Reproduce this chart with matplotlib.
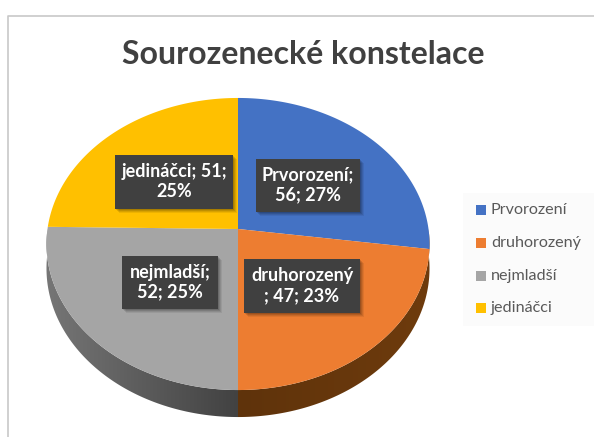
import numpy as np
import matplotlib
matplotlib.use("Agg")
import matplotlib.pyplot as plt
from matplotlib.patches import Polygon, Rectangle

title = "Sourozenecké konstelace"
names = ["Prvorození", "druhorozený", "nejmladší", "jedináčci"]
values = [56, 47, 52, 51]
colors = ["#4472C4", "#ED7D31", "#A5A5A5", "#FFC000"]
# how the labels wrap in the original
wraps = [
    "{n};\n{v}; {p}%",
    "{n}\n; {v}; {p}%",
    "{n};\n{v}; {p}%",
    "{n}; {v};\n{p}%",
]
# x0, x1, y0, y1 in pixels
boxes = [(256, 360, 159, 212), (244, 360, 259, 313), (122, 218, 256, 309), (115, 233, 155, 209)]
legend_y = [210, 243, 276, 308]

plt.rcParams["font.family"] = ["Lato", "DejaVu Sans"]

# pie projection, tilted with a little perspective
cx, cy = 238, 229
rx, ry, k = 190.5, 144.5, 0.1027
depth = 27


def project(theta):
    u, v = np.sin(theta), np.cos(theta)
    s = 1 + k * v
    return cx + rx * u / s, cy - ry * v / s, depth * (1 - k) / s


fig = plt.figure(figsize=(5.94, 4.37), dpi=100)
ax = fig.add_axes([0, 0, 1, 1])

# chart frame, cut off on the right and at the bottom
ax.plot([7.5, 7.5, 594], [437, 15.5, 15.5], color="#c8c8c8", lw=1.2)
ax.text(303.5, 55, title, ha="center", va="center", fontsize=23,
        fontweight="bold", color="#404040")

total = sum(values)
edges = np.cumsum([0] + values) / total * 2 * np.pi

# side of the pie, front half only, gradient clipped to each half
halves = [
    (np.pi / 2, np.pi, "#5f330b", "#6e3b0d"),
    (np.pi, 3 * np.pi / 2, "#424242", "#767676"),
]
for a, b, inner, outer in halves:
    th = np.linspace(a, b, 150)
    px, py, d = project(th)
    poly = Polygon(np.column_stack([np.r_[px, px[::-1]], np.r_[py, (py + d)[::-1]]]),
                   facecolor="none", edgecolor="none")
    ax.add_patch(poly)
    grad = np.linspace(0, 1, 200).reshape(1, -1)
    x_in, x_out = cx, px.max() if a < np.pi else px.min()
    cmap = matplotlib.colors.LinearSegmentedColormap.from_list("side", [inner, outer])
    im = ax.imshow(grad, cmap=cmap, aspect="auto", extent=(x_in, x_out, 437, 0))
    im.set_clip_path(poly)

# top face
for i, col in enumerate(colors):
    th = np.linspace(edges[i], edges[i + 1], 120)
    px, py, _ = project(th)
    pts = np.column_stack([np.r_[cx, px], np.r_[cy, py]])
    ax.add_patch(Polygon(pts, facecolor=col, edgecolor="none"))

# data labels
for i, (x0, x1, y0, y1) in enumerate(boxes):
    for off, alpha in [(5, 0.07), (4, 0.09), (3, 0.11), (2, 0.13)]:
        ax.add_patch(Rectangle((x0 + off - 1, y0 + off - 1), x1 - x0, y1 - y0,
                               facecolor="black", alpha=alpha, edgecolor="none"))
    ax.add_patch(Rectangle((x0, y0), x1 - x0, y1 - y0, facecolor="#404040", edgecolor="none"))
    pct = round(100 * values[i] / total)
    label = wraps[i].format(n=names[i], v=values[i], p=pct)
    ax.text((x0 + x1) / 2, (y0 + y1) / 2 - 0.5, label, ha="center", va="center",
            fontsize=13, fontweight="bold", color="white", linespacing=1.2)

# legend
ax.add_patch(Rectangle((463, 193), 131, 133, facecolor="#fbfbfb", edgecolor="none"))
for name, col, y in zip(names, colors, legend_y):
    ax.add_patch(Rectangle((476, y - 5), 10, 10, facecolor=col, edgecolor="none"))
    ax.text(491, y, name, ha="left", va="center", fontsize=11.6, color="#595959")

ax.set_xlim(0, 594)
ax.set_ylim(437, 0)
ax.axis("off")

fig.savefig("out.png", dpi=100)
